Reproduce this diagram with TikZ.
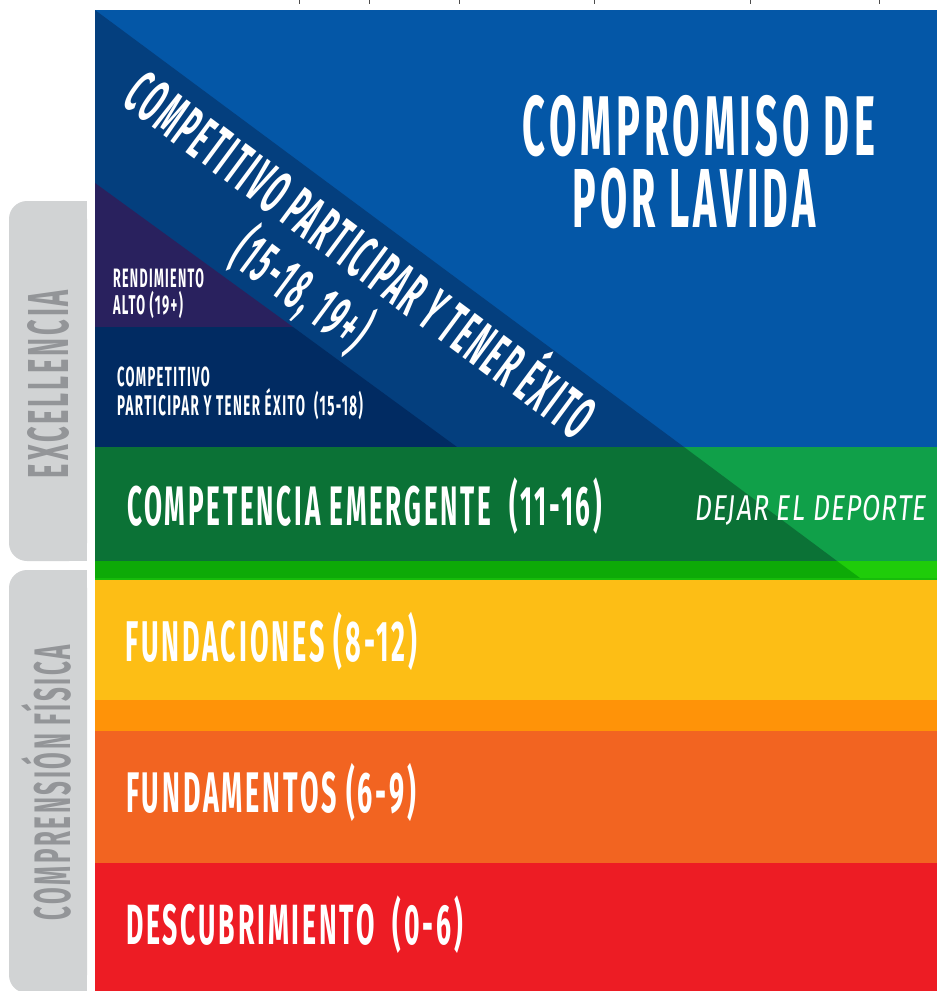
\documentclass[tikz,border=0pt]{standalone}
\usepackage{fontspec}
\usepackage{graphicx}
\newfontfamily\condfont[FakeStretch=0.47,LetterSpace=5]{Fira Sans}
\newfontfamily\diagfont[FakeStretch=0.42,LetterSpace=5]{Fira Sans}
\newfontfamily\dejarfont[FakeStretch=0.74,LetterSpace=3]{Fira Sans}
\newcommand\fitw[2]{\resizebox{#1}{!}{#2}}
\definecolor{lightblue}{HTML}{0457A7}
\definecolor{bandblue}{HTML}{043F7E}
\definecolor{purplearea}{HTML}{29215E}
\definecolor{navyarea}{HTML}{012B62}
\definecolor{darkgreen}{HTML}{0B7236}
\definecolor{lightgreen}{HTML}{10A049}
\definecolor{brightL}{HTML}{0DAA07}
\definecolor{brightR}{HTML}{1FCC0A}
\definecolor{brightline}{HTML}{17BC0A}
\definecolor{yellowband}{HTML}{FDBE15}
\definecolor{orangeband}{HTML}{FF9308}
\definecolor{orangered}{HTML}{F26421}
\definecolor{redband}{HTML}{ED1C24}
\definecolor{tabgray}{HTML}{D1D3D4}
\definecolor{sidegray}{HTML}{939598}
\begin{document}
\begin{tikzpicture}[x=1pt,y=-1pt,
  every node/.style={inner sep=0pt,outer sep=0pt,text=white},
  biglbl/.style={font=\condfont\bfseries\fontsize{40}{44}\selectfont},
  diaglbl/.style={font=\diagfont\bfseries\fontsize{40}{44}\selectfont,rotate=-36.6},
  smalllbl/.style={font=\condfont\bfseries\fontsize{20}{24}\selectfont},
  sidelbl/.style={font=\condfont\bfseries\fontsize{30}{34}\selectfont,text=sidegray,rotate=90,anchor=base},
  dejarlbl/.style={font=\dejarfont\itshape\fontsize{30}{34}\selectfont}]
\useasboundingbox (0,0) rectangle (937,991);
\fill[white] (0,0) rectangle (937,991);
% top ticks (cut-off text above)
\foreach \tx in {299,369,459,594,750,879}
  \draw[gray!60!black,line width=1pt] (\tx,0) -- (\tx,4);
% blue area
\fill[lightblue] (95,10) rectangle (937,447);
\fill[bandblue] (95,10) -- (684,447) -- (95,447) -- cycle;
\fill[purplearea] (95,183) -- (293,327) -- (95,327) -- cycle;
\fill[navyarea] (95,327) -- (293,327) -- (457,447) -- (95,447) -- cycle;
% green band
\fill[lightgreen] (95,447) rectangle (937,561);
\fill[darkgreen] (95,447) -- (684,447) -- (837,561) -- (95,561) -- cycle;
\fill[brightR] (95,561) rectangle (937,578);
\fill[brightL] (95,561) -- (837,561) -- (860,578) -- (95,578) -- cycle;
\fill[brightline] (95,578) rectangle (937,580);
% lower bands
\fill[yellowband] (95,580) rectangle (937,700);
\fill[orangeband] (95,700) rectangle (937,731);
\fill[orangered] (95,731) rectangle (937,863);
\fill[redband] (95,863) rectangle (937,991);
% side tabs
\fill[tabgray,rounded corners=18pt] (9,201) rectangle (87,561);
\fill[tabgray] (50,201) rectangle (87,561);
\fill[tabgray,rounded corners=18pt] (9,570) rectangle (87,993);
\fill[tabgray] (50,570) rectangle (87,993);
\node[sidelbl] (excel) at (68,384) {\fitw{188pt}{EXCELLENCIA}};
\node[sidelbl] (compf) at (70,782.5) {\fitw{275pt}{COMPRENSIÓN FÍSICA}};
% title
\node[biglbl,anchor=base] (title1) at (699,155) {\fitw{352pt}{COMPROMISO DE}};
\node[biglbl,anchor=base] (title2) at (694,227) {\fitw{243pt}{POR LAVIDA}};
% diagonal text
\node[diaglbl] (diag1) at (365,249) {\fitw{566pt}{COMPETITIVO PARTICIPAR Y TENER ÉXITO}};
\node[diaglbl] (diag2) at (302,291) {\fitw{156pt}{(15-18, 19+)}};
% small labels
\node[smalllbl,anchor=base west] (rend1) at (113,287) {\fitw{91pt}{RENDIMIENTO}};
\node[smalllbl,anchor=base west] (rend2) at (113,314) {\fitw{70pt}{ALTO (19+)}};
\node[smalllbl,anchor=base west] (comp1) at (117,386) {\fitw{93pt}{COMPETITIVO}};
\node[smalllbl,anchor=base west] (comp2) at (117,415) {\fitw{246pt}{PARTICIPAR Y TENER ÉXITO\ \ (15-18)}};
% band labels
\node[biglbl,anchor=base west] (emerg) at (127,525) {\fitw{475pt}{COMPETENCIA EMERGENTE\ \ (11-16)}};
\node[dejarlbl,anchor=base west] (dejar) at (695,520) {\fitw{232pt}{DEJAR EL DEPORTE}};
\node[biglbl,anchor=base west] (fundac) at (125,661) {\fitw{292pt}{FUNDACIONES (8-12)}};
\node[biglbl,anchor=base west] (fundam) at (126,812) {\fitw{290pt}{FUNDAMENTOS (6-9)}};
\node[biglbl,anchor=base west] (descub) at (126,944) {\fitw{337pt}{DESCUBRIMIENTO\ \ (0-6)}};
\end{tikzpicture}
\end{document}
